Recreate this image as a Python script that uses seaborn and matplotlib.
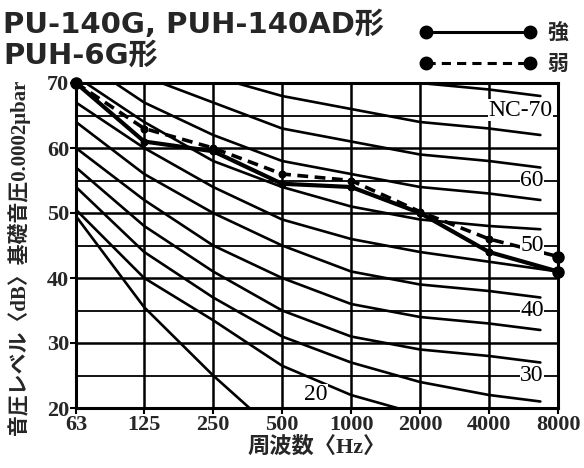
import numpy as np
import pandas as pd
import matplotlib
matplotlib.use("Agg")
import matplotlib.pyplot as plt
from matplotlib.lines import Line2D
from matplotlib.ticker import NullLocator, FixedLocator
import seaborn as sns

# オクターブバンド中心周波数
band_labels = ['63', '125', '250', '500', '1000', '2000', '4000', '8000']
band_hz = [63, 125, 250, 500, 1000, 2000, 4000, 8000]

# NC曲線 (最後の値は線の終わりの値)
nc70 = [83, 79, 75, 72, 71, 70, 69, 68]
nc65 = [80, 75, 71, 68, 66, 64, 63, 62]
nc60 = [77, 71, 67, 63, 61, 59, 58, 57]
nc55 = [74, 67, 62, 58, 56, 54, 53, 52]
nc50 = [71, 64, 58, 54, 51, 49, 48, 47.5]
nc45 = [67, 60, 54, 49, 46, 44, 42.5, 41]
nc40 = [64, 56, 50, 45, 41, 39, 38, 37]
nc35 = [60, 52, 45, 40, 36, 34, 33, 32]
nc30 = [57, 48, 41, 35, 31, 29, 28, 27]
nc25 = [54, 44, 37, 31, 27, 24, 22, 21]
nc20 = [50.5, 40, 33.5, 26.5, 22, 19, 17, 16]
nc15 = [49.5, 35.5, 25, 15.5, np.nan, np.nan, np.nan, np.nan]
nc_names = ['NC-70', 'NC-65', 'NC-60', 'NC-55', 'NC-50', 'NC-45',
            'NC-40', 'NC-35', 'NC-30', 'NC-25', 'NC-20', 'NC-15']
nc_curves = [nc70, nc65, nc60, nc55, nc50, nc45, nc40, nc35, nc30, nc25, nc20, nc15]
# 線の右端の周波数 (NC-45 だけ8000まで)
nc_end_hz = [6700] * 5 + [8000] + [6700] * 6

# 測定値
strong = [70, 61, 59.5, 54.5, 54, 50, 44, 41]
weak = [70, 63, 60, 56, 55, 50.2, 46, 43.3]

# 曲線ラベル
label_text = ['NC-70', '60', '50', '40', '30', '20']
label_hz = [5500, 6150, 6150, 6150, 6150, 700]
label_db = [65.8, 55, 45, 35, 25, 22]

sns.set_theme(style='white')
plt.rcParams['font.family'] = ['DejaVu Sans', 'Noto Sans CJK JP']

fig = plt.figure(figsize=(5.84, 4.68), dpi=100)
ax = fig.add_axes([76 / 584, 1 - 408 / 468, (558 - 76) / 584, (408 - 83) / 468])

rows = []
for name, vals, end in zip(nc_names, nc_curves, nc_end_hz):
    xs = band_hz[:-1] + [end]
    for hz, db in zip(xs, vals):
        rows.append({'nc': name, 'hz': hz, 'db': db})
nc_df = pd.DataFrame(rows).dropna()

sns.lineplot(data=nc_df, x='hz', y='db', units='nc', estimator=None,
             color='black', lw=1.9, ax=ax, sort=False)

sns.lineplot(x=band_hz, y=strong, color='black', lw=3, marker='o', ms=5,
             mec='black', ax=ax)
sns.lineplot(x=band_hz, y=weak, color='black', lw=2.6, marker='o', ms=5,
             mec='black', dashes=False, ax=ax, linestyle=(0, (3, 1.8)))
ax.plot([band_hz[0], band_hz[-1]], [strong[0], strong[-1]], 'o', color='black',
        ms=8, ls='none', clip_on=False, zorder=5)
ax.plot([band_hz[-1]], [weak[-1]], 'o', color='black', ms=8, clip_on=False, zorder=5)

ax.set_xscale('log', base=2)
ax.set_xlim(band_hz[0], band_hz[-1])
ax.set_ylim(20, 70)
ax.xaxis.set_major_locator(FixedLocator(band_hz))
ax.xaxis.set_minor_locator(NullLocator())
ax.set_xticklabels(band_labels)
ax.set_yticks([20, 30, 40, 50, 60, 70])
ax.set_yticks([25, 35, 45, 55, 65], minor=True)
ax.grid(True, which='major', color='black', lw=1.8)
ax.grid(True, which='minor', axis='y', color='black', lw=1.3)
ax.set_axisbelow(True)
for s in ax.spines.values():
    s.set_color('black')
    s.set_linewidth(2.2)

serif = ['Liberation Serif', 'Noto Sans CJK JP']
ax.tick_params(axis='both', which='major', direction='out', length=4, width=1.5,
               color='black', labelsize=16, pad=1, bottom=True, left=True)
ax.tick_params(axis='y', which='minor', left=False)
for t in ax.get_xticklabels() + ax.get_yticklabels():
    t.set_fontfamily(serif)
    t.set_fontweight('bold')

for txt, hz, db in zip(label_text, label_hz, label_db):
    ax.text(hz, db, txt, family=serif, fontsize=17, ha='center', va='center',
            color='black',
            bbox=dict(facecolor='white', edgecolor='none', pad=0.3))

ax.set_xlabel('周波数〈Hz〉', family=serif,
              fontsize=16, fontweight='bold', labelpad=1)
ax.set_ylabel('音圧レベル〈dB〉基礎音圧0.0002μbar', family=serif,
              fontsize=15, fontweight='bold')
ax.yaxis.set_label_coords(-0.095, 0.465)

fig.text(3 / 584, 1 - 33 / 468, 'PU-140G, PUH-140AD形', fontsize=21,
         fontweight='bold', ha='left', va='baseline')
fig.text(3 / 584, 1 - 64 / 468, 'PUH-6G形', fontsize=21,
         fontweight='bold', ha='left', va='baseline')

handles = [Line2D([], [], color='black', lw=2.2, marker='o', ms=9),
           Line2D([], [], color='black', lw=2.2, marker='o', ms=9, ls=(0, (3, 2)))]
fig.legend(handles, ['強', '弱'], loc='upper left',
           bbox_to_anchor=(420 / 584, 1 - 22 / 468), numpoints=2, frameon=False,
           handlelength=5.6, handletextpad=0.5, labelspacing=0.5,
           borderpad=0, borderaxespad=0,
           prop={'family': ['Noto Sans CJK JP'], 'weight': 'bold', 'size': 15})

fig.savefig('out.png', dpi=100)
